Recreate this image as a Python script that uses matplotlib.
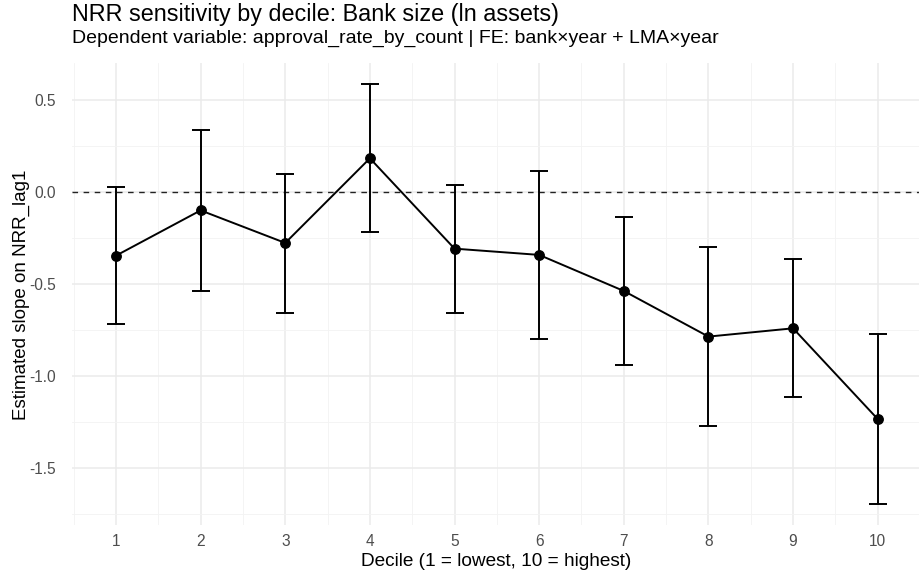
import matplotlib
matplotlib.use("Agg")
import matplotlib.pyplot as plt
import numpy as np

deciles = [1, 2, 3, 4, 5, 6, 7, 8, 9, 10]
estimate = [-0.346, -0.100, -0.277, 0.183, -0.308, -0.342, -0.538, -0.786, -0.741, -1.234]
ci_low = [-0.717, -0.536, -0.656, -0.217, -0.656, -0.800, -0.938, -1.270, -1.116, -1.696]
ci_high = [0.027, 0.337, 0.100, 0.585, 0.040, 0.116, -0.138, -0.300, -0.364, -0.770]

title = "NRR sensitivity by decile: Bank size (ln assets)"
subtitle = "Dependent variable: approval_rate_by_count | FE: bank\u00d7year + LMA\u00d7year"
xlabel = "Decile (1 = lowest, 10 = highest)"
ylabel = "Estimated slope on NRR_lag1"

plt.rcParams['font.family'] = ['Liberation Sans', 'DejaVu Sans']

W, H = 920, 577
fig = plt.figure(figsize=(W / 100, H / 100), dpi=100)
left, right, top, bottom = 72, 920, 63, 525
ax = fig.add_axes([left / W, 1 - bottom / H, (right - left) / W, (bottom - top) / H])

for s in ax.spines.values():
    s.set_visible(False)

ax.set_xlim(0.48, 10.42)
ax.set_ylim(-1.81, 0.701)
ax.set_xticks(deciles)
ax.set_xticklabels([str(d) for d in deciles])
ax.set_yticks([-1.5, -1.0, -0.5, 0.0, 0.5])
ax.set_yticklabels(["-1.5", "-1.0", "-0.5", "0.0", "0.5"])
ax.set_xticks(np.arange(0.5, 11, 1.0), minor=True)
ax.set_yticks([-1.75, -1.25, -0.75, -0.25, 0.25], minor=True)
ax.tick_params(which='both', length=0)
ax.tick_params(axis='y', which='major', labelsize=11.2, labelcolor='#4D4D4D', pad=11.5)
ax.tick_params(axis='x', which='major', labelsize=11.2, labelcolor='#4D4D4D', pad=6.5)
ax.grid(which='major', color='#EBEBEB', linewidth=1.1)
ax.grid(which='minor', color='#F3F3F3', linewidth=0.6)
ax.set_axisbelow(True)

ax.axhline(0, color='#222222', linewidth=1.0, linestyle=(0, (4, 4)), zorder=2)

est = np.array(estimate)
lo = np.array(ci_low)
hi = np.array(ci_high)
ax.errorbar(deciles, est, yerr=[est - lo, hi - est], fmt='none', ecolor='black',
            elinewidth=1.4, capsize=6.5, capthick=1.4, zorder=3)
ax.plot(deciles, est, color='black', linewidth=1.4, zorder=4)
ax.plot(deciles, est, 'o', color='black', markersize=6.8, zorder=5)

fig.text((left + right) / 2 / W, 1 - 566 / H, xlabel, fontsize=13.7, ha='center', va='baseline', color='black')
fig.text(21 / W, 1 - 295 / H, ylabel, fontsize=13.5, ha='center', va='center', rotation=90, color='black')

fig.text(72 / W, 1 - 21 / H, title, fontsize=16.8, ha='left', va='baseline', color='black')
fig.text(72 / W, 1 - 43 / H, subtitle, fontsize=14, ha='left', va='baseline', color='black')

fig.savefig("out.png", dpi=100, facecolor='white')
